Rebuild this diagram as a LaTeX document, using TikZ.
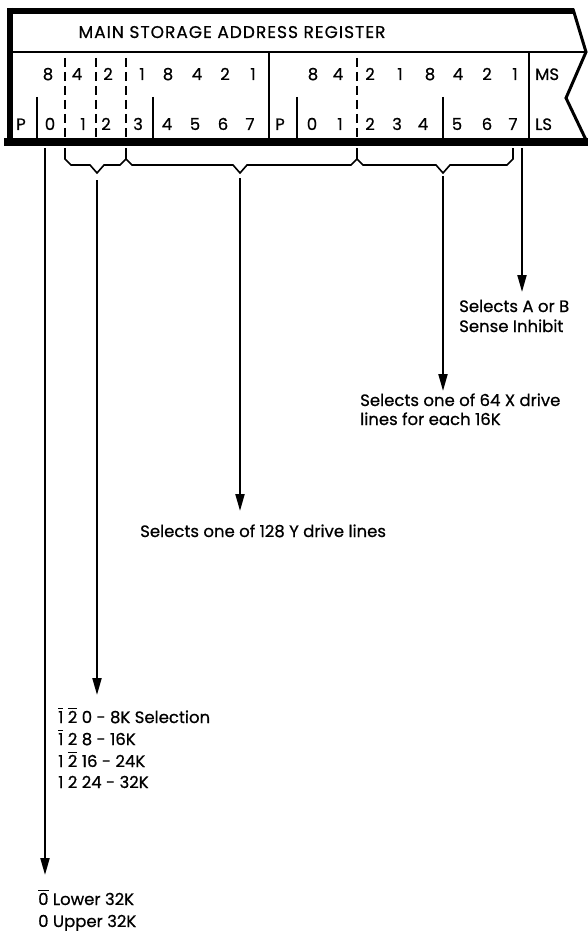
\documentclass[tikz,border=0pt]{standalone}
\usepackage{fontspec}
\setmainfont{Poppins}[FakeBold=0.7]
\usetikzlibrary{arrows.meta}
\newcommand\obar[1]{{\setbox0\hbox{#1}\rlap{\raisebox{\dimexpr\ht0+1.6pt\relax}{\rule{\wd0}{1pt}}}#1}}
\begin{document}
\begin{tikzpicture}[x=1pt,y=-1pt,
  lbl/.style={font=\fontsize{16.5}{20}\selectfont, inner sep=0pt, anchor=base west},
  dig/.style={font=\fontsize{16.5}{16}\selectfont, inner sep=0pt, anchor=base},
  digw/.style={font=\fontsize{16.5}{16}\selectfont, inner sep=0pt, anchor=base west},
  rule/.style={line width=2.5pt},
  dashrule/.style={line width=2.5pt, dash pattern=on 9pt off 5pt},
  bracepath/.style={line width=1.6pt, line join=miter},
  arr/.style={line width=2pt, -{Triangle[length=17pt,width=9pt]}}]
\useasboundingbox (0,0) rectangle (587,931);
% register outline
\draw[line width=6pt] (7,11) -- (574,11);
\draw[line width=3pt, line join=miter] (573,9) -- (586,52) -- (566,98) -- (587,142);
\draw[line width=8pt] (4,142) -- (588,142);
\draw[line width=6pt] (10,8) -- (10,146);
\draw[line width=2pt] (10,52.5) -- (586,52.5);
% title
\node[font=\fontsize{17}{17}\selectfont\addfontfeatures{LetterSpace=6}, inner sep=0pt, anchor=base] (title) at (232,38) {MAIN STORAGE ADDRESS REGISTER};
% interior dividers
\foreach \x in {37,153,297,443} \draw[rule] (\x,97) -- (\x,138);
\foreach \x in {269,529} \draw[rule] (\x,53) -- (\x,138);
\foreach \x in {65,96,126,357} \draw[dashrule] (\x,58) -- (\x,138);
% top row digits
\foreach \x/\t [count=\i] in {48/8,77/4,108/2,142/1,168/8,197/4,225/2,253/1,313/8,338/4,370/2,400/1,430/8,458/4,487/2,515/1}
  \node[dig] (m\i) at (\x,80) {\t};
\node[digw] (ms) at (535,80) {MS};
% bottom row digits
\foreach \x/\t [count=\i] in {21/P,50/0,83/1,106/2,138/3,167/4,195/5,223/6,250/7,280/P,312/0,340/1,370/2,397/3,423/4,457/5,487/6,513/7}
  \node[dig] (l\i) at (\x,130) {\t};
\node[digw] (ls) at (535,130) {LS};
% braces
\coordinate (b1s) at (65,148);
\coordinate (b2s) at (126,148);
\coordinate (b3s) at (357,148);
\coordinate (b4s) at (513,148);
\coordinate (v1) at (97,173);
\coordinate (v2) at (240,173);
\coordinate (v3) at (443,173);
\draw[bracepath] (b1s) -- (65,159) -- (71,165) -- (90,165) -- (v1) -- (104,165) -- (120,165) -- (126,159) -- (132,165)
  -- (233,165) -- (v2) -- (247,165) -- (351,165) -- (357,159) -- (363,165) -- (436,165) -- (v3) -- (450,165)
  -- (507,165) -- (513,159) -- (b4s);
\draw[bracepath] (b2s) -- (126,159);
\draw[bracepath] (b3s) -- (357,159);
% labels
\node[lbl] (ab1) at (459,312) {Selects A or B};
\node[lbl] (ab2) at (459,332) {Sense Inhibit};
\node[lbl] (x1) at (360,406) {Selects one of 64 X drive};
\node[lbl] (x2) at (360,425) {lines for each 16K};
\node[lbl] (y1) at (140,537) {Selects one of 128 Y drive lines};
\node[lbl] (k1) at (58,723) {\obar{1} \obar{2} 0 - 8K Selection};
\node[lbl] (k2) at (58,745) {\obar{1} 2 8 - 16K};
\node[lbl] (k3) at (58,767) {1 \obar{2} 16 - 24K};
\node[lbl] (k4) at (58,788) {1 2 24 - 32K};
\node[lbl] (h1) at (38,905) {\obar{0} Lower 32K};
\node[lbl] (h2) at (38,927) {0 Upper 32K};
% arrows
\coordinate (s0) at (45,148);  \coordinate (e0) at (45,875);
\coordinate (s1) at (97,180);  \coordinate (e1) at (97,695);
\coordinate (s2) at (240,178); \coordinate (e2) at (240,511);
\coordinate (s3) at (443,176); \coordinate (e3) at (443,391);
\coordinate (s4) at (522,148); \coordinate (e4) at (522,292);
\draw[arr] (s0) -- (e0);
\draw[arr] (s1) -- (e1);
\draw[arr] (s2) -- (e2);
\draw[arr] (s3) -- (e3);
\draw[arr] (s4) -- (e4);
\end{tikzpicture}
\end{document}
